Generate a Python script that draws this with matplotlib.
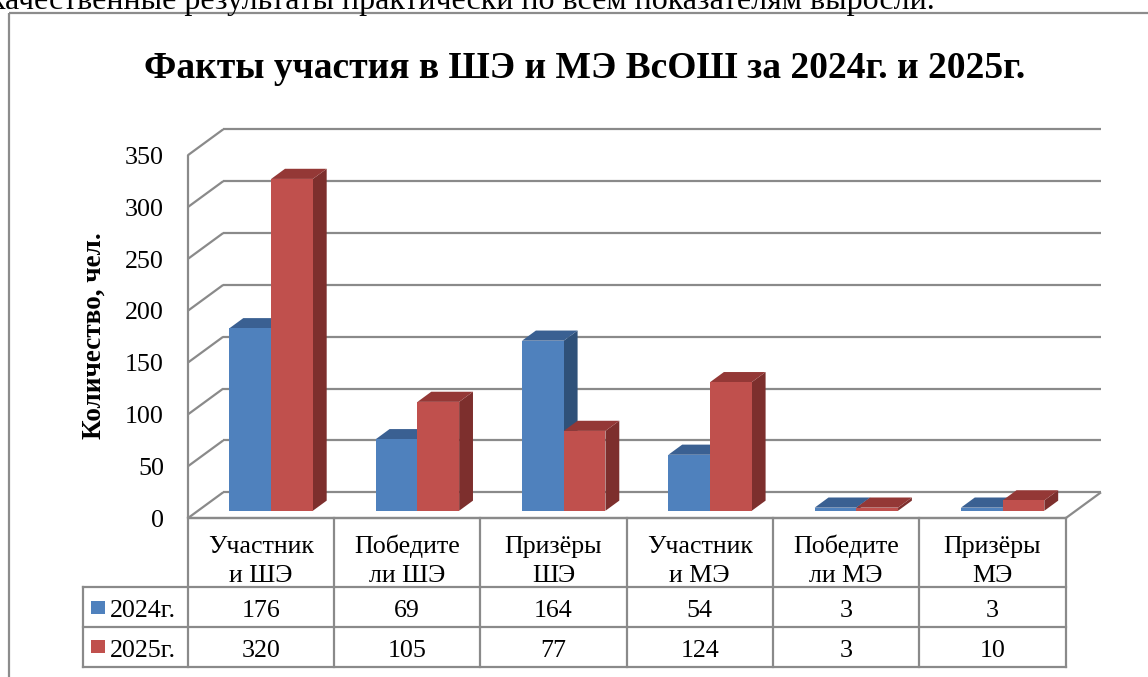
import matplotlib
matplotlib.use("Agg")
import matplotlib.pyplot as plt
from matplotlib.patches import Polygon, Rectangle

plt.rcParams['font.family'] = 'serif'
plt.rcParams['font.serif'] = ['Liberation Serif', 'Times New Roman', 'DejaVu Serif']

# ---------------- data ----------------
categories = ["Участник\nи ШЭ", "Победите\nли ШЭ", "Призёры\nШЭ",
              "Участник\nи МЭ", "Победите\nли МЭ", "Призёры\nМЭ"]
series_names = ["2024г.", "2025г."]
values_2024 = [176, 69, 164, 54, 3, 3]
values_2025 = [320, 105, 77, 124, 3, 10]
y_ticks = [0, 50, 100, 150, 200, 250, 300, 350]
title = "Факты участия в ШЭ и МЭ ВсОШ за 2024г. и 2025г."
y_label = "Количество, чел."

# ---------------- styling ----------------
W, H = 1148, 677
fig = plt.figure(figsize=(W / 100, H / 100), dpi=100)
GRID = "#8a8a8a"
face = {"2024г.": ("#4F81BD", "#3A6092", "#2F5179"),
        "2025г.": ("#C0504D", "#943836", "#7D2F2D")}
FS = 18.7

def px_axes(x0, y0, x1, y1):
    return fig.add_axes([x0 / W, 1 - y1 / H, (x1 - x0) / W, (y1 - y0) / H])

# background axes in pixel units (frame, title, stray text)
bg = fig.add_axes([0, 0, 1, 1])
bg.set_xlim(0, W)
bg.set_ylim(H, 0)
bg.axis("off")
bg.add_patch(Rectangle((8.5, 13), 1200, 700, fill=False, ec="#8c8c8c", lw=1.6))
bg.text(935, 9, "качественные результаты практически по всем показателям выросли.",
        ha="right", va="baseline", fontsize=23, color="black")
bg.text(585, 78, title, ha="center", va="baseline", fontsize=27, fontweight="bold")
bg.text(101, 336, y_label, rotation=90, rotation_mode="anchor", ha="center",
        va="baseline", fontsize=19.5, fontweight="bold")

# ---------------- pseudo-3D chart ----------------
FX0, FX1 = 187.7, 1065.5        # front plane x extent (px)
FY0 = 518.3                      # value 0 on front plane (px)
PPU = 1.037                      # px per value unit
YMAX = 350
ax = px_axes(FX0, FY0 - YMAX * PPU, FX1, FY0)
ncat = len(categories)
ax.set_xlim(0, ncat)
ax.set_ylim(0, YMAX)
for s in ax.spines.values():
    s.set_visible(False)
ax.set_xticks([])
ax.set_yticks(y_ticks)
ax.set_yticklabels([str(t) for t in y_ticks], fontsize=FS)
ax.tick_params(axis="y", length=0, pad=17)
ax.patch.set_alpha(0)

DX = 35.5 / ((FX1 - FX0) / ncat)   # depth offset in category units
DY = 26.0 / PPU                    # depth offset in value units

kw = dict(color=GRID, lw=1.6, clip_on=False, solid_capstyle="butt", zorder=1)
for t in y_ticks:
    ax.plot([DX, ncat + DX], [t + DY, t + DY], **kw)          # back wall
    ax.plot([0, DX], [t, t + DY], **kw)                        # side wall
ax.plot([0, 0], [0, YMAX], **kw)
ax.plot([0, ncat], [0, 0], **kw)                               # floor front
ax.plot([ncat, ncat + DX], [0, DY], **kw)                      # floor right

# bars
T0, T1 = 0.29, 0.68
BW = 0.285
series = [values_2024, values_2025]
for i in range(ncat):
    for k, vals in enumerate(series):
        front, top, side = face[series_names[k]]
        x0 = i + 0.5 - BW + k * BW
        x1 = x0 + BW
        v = vals[i]
        bx, by = T0 * DX, T0 * DY
        dx, dy = (T1 - T0) * DX, (T1 - T0) * DY
        z = 3 + i * 0.1 + k * 0.01
        ax.add_patch(Polygon([(x1 + bx, by), (x1 + bx, v + by), (x1 + bx + dx, v + by + dy),
                              (x1 + bx + dx, by + dy)], closed=True, fc=side, ec="none",
                             clip_on=False, zorder=z))
        ax.add_patch(Polygon([(x0 + bx, v + by), (x1 + bx, v + by), (x1 + bx + dx, v + by + dy),
                              (x0 + bx + dx, v + by + dy)], closed=True, fc=top, ec="none",
                             clip_on=False, zorder=z))
        ax.add_patch(Rectangle((x0 + bx, by), BW, v, fc=front, ec="none",
                               clip_on=False, zorder=z))

# ---------------- data table ----------------
TX0 = 82.7
LEG = (FX0 - TX0) / ((FX1 - FX0) / ncat)
rows_y = [0, 69, 108.4, 148.4]   # px offsets below floor front
tb = px_axes(TX0, FY0, FX1, FY0 + rows_y[-1])
tb.set_xlim(-LEG, ncat)
tb.set_ylim(rows_y[-1], 0)
tb.axis("off")
tkw = dict(color=GRID, lw=1.6, clip_on=False, solid_capstyle="projecting")
tb.plot([0, ncat], [0, 0], **tkw)
for yy in rows_y[1:]:
    tb.plot([-LEG, ncat], [yy, yy], **tkw)
tb.plot([-LEG, -LEG], [rows_y[1], rows_y[-1]], **tkw)
for i in range(ncat + 1):
    tb.plot([i, i], [0, rows_y[-1]], **tkw)
for i, c in enumerate(categories):
    for j, line in enumerate(c.split("\n")):
        tb.text(i + 0.5, 35 + j * 28.4, line, ha="center", va="baseline", fontsize=FS)
for k, vals in enumerate(series):
    yb = rows_y[k + 2] - 10
    yc = (rows_y[k + 1] + rows_y[k + 2]) / 2
    tb.add_patch(Rectangle((-LEG + 0.057, yc - 6.5), 0.0957, 13,
                           fc=face[series_names[k]][0], ec="none", clip_on=False))
    tb.text(-LEG + 0.187, yb, series_names[k], ha="left", va="baseline", fontsize=FS)
    for i, v in enumerate(vals):
        tb.text(i + 0.5, yb, str(v), ha="center", va="baseline", fontsize=FS)

fig.savefig("out.png", dpi=100)
